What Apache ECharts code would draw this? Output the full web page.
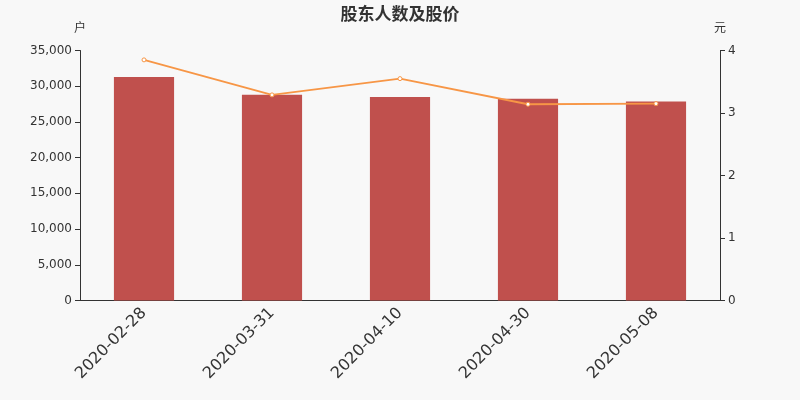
<!DOCTYPE html>
<html><head><meta charset="utf-8">
<script src="https://cdn.jsdelivr.net/npm/echarts@6/dist/echarts.min.js"></script>
<style>html,body{margin:0;padding:0;background:#f8f8f8;}#c{width:800px;height:400px;}</style>
</head><body><div id="c"></div>
<script>
var categories = ['2020-02-28','2020-03-31','2020-04-10','2020-04-30','2020-05-08'];
var holders = [31300, 28800, 28500, 28250, 27850];
var prices = [3.85, 3.29, 3.55, 3.14, 3.15];
var chart = echarts.init(document.getElementById('c'));
var axisText = {color:'#333', fontSize:12, fontFamily:'DejaVu Sans'};
chart.setOption({
  backgroundColor:'#f8f8f8',
  title:{text:'股东人数及股价', left:'center', top:0, textStyle:{fontSize:17, fontWeight:'bold', color:'#333', fontFamily:'Noto Sans CJK SC'}},
  grid:{left:80, right:80, top:50.5, bottom:99.5},
  xAxis:{type:'category', data:categories,
    axisLine:{lineStyle:{color:'#333'}}, axisTick:{lineStyle:{color:'#333'}},
    axisLabel:{rotate:45, fontSize:16, color:'#333', fontFamily:'DejaVu Sans', margin:10}},
  yAxis:[
    {type:'value', name:'户', min:0, max:35000, interval:5000, nameTextStyle:{color:'#333', fontFamily:'Noto Sans CJK SC', padding:[0,0,2,0]},
     axisLine:{show:true, lineStyle:{color:'#333'}}, axisTick:{show:true}, splitLine:{show:false},
     axisLabel:Object.assign({formatter:function(v){return v.toLocaleString('en-US');}}, axisText)},
    {type:'value', name:'元', min:0, max:4, interval:1, nameTextStyle:{color:'#333', fontFamily:'Noto Sans CJK SC', padding:[0,0,2,0]},
     axisLine:{show:true, lineStyle:{color:'#333'}}, axisTick:{show:true}, splitLine:{show:false},
     axisLabel:axisText}
  ],
  series:[
    {type:'bar', data:holders, barWidth:'47%', itemStyle:{color:'#c0504d'}},
    {type:'line', yAxisIndex:1, data:prices, symbol:'circle', symbolSize:4,
     lineStyle:{color:'#f79646', width:2}, itemStyle:{color:'#fff', borderColor:'#f79646', borderWidth:1}}
  ]
});
</script></body></html>
